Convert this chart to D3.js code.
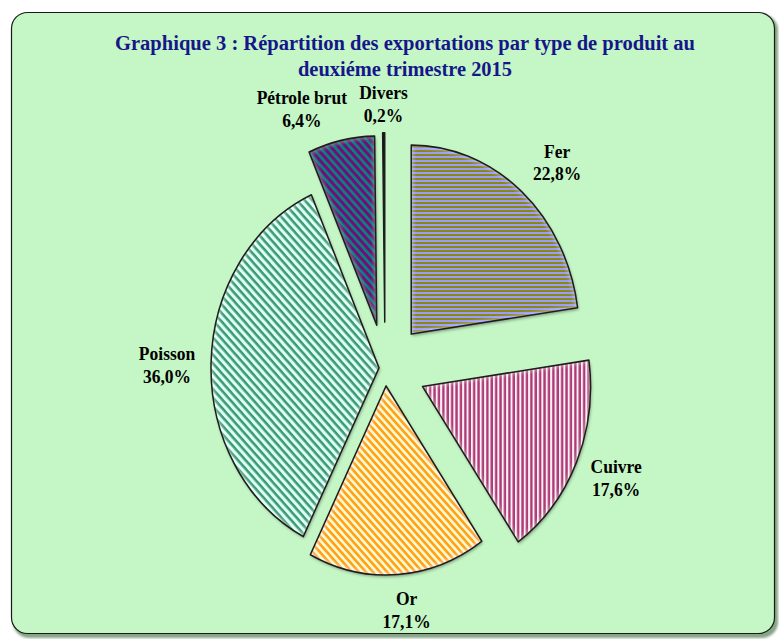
<!DOCTYPE html>
<html>
<head>
<meta charset="utf-8">
<script src="https://cdn.jsdelivr.net/npm/d3@7"></script>
<style>
  body { margin: 0; background: #ffffff; }
  svg { display: block; }
</style>
</head>
<body>
<div id="chart_block"></div>
<script>
// data
var titleLines = ["Graphique 3 : Répartition des exportations  par type de produit au", "deuxiéme trimestre  2015"]
var categories = ["Fer", "Cuivre", "Or", "Poisson", "Pétrole brut", "Divers"]
var values = [22.8, 17.6, 17.1, 36.0, 6.4, 0.2]

// layout per slice (exploded distance, label distance, label angle nudge in degrees)
var explode = [40, 41, 16, 6, 39, 41]
var labelDist = [251, 251, 216, 218, 245, 235]
var labelNudge = [2.3, -0.7, -1.8, -0.8, -7.6, 0]

var width = 779, height = 639
var cx = 385, cy = 368, radius = 168, stretch = 1.125

var svg = d3.select("#chart_block")
    .append("svg")
    .attr("width", width)
    .attr("height", height)

var defs = svg.append("defs")

// stripe patterns
function stripes(id, c1, c2, size, w1, angle) {
    var p = defs.append("pattern")
        .attr("id", id)
        .attr("patternUnits", "userSpaceOnUse")
        .attr("width", size)
        .attr("height", size)
        .attr("patternTransform", "rotate(" + angle + ")")
    p.append("rect").attr("width", size).attr("height", size).attr("fill", c2)
    p.append("rect").attr("width", size).attr("height", w1).attr("fill", c1)
}
stripes("patFer", "#88880c", "#9c9cff", 4 / stretch, 2 / stretch, 0)
stripes("patCuivre", "#ad3a76", "#fdf0f6", 4.4, 2.4, 90)
stripes("patOr", "#ffa010", "#fff8d2", 5, 2.4, 45)
stripes("patPoisson", "#3a9870", "#dcfff6", 5.4, 2.4, 45)
stripes("patPetrole", "#720a7a", "#0a8080", 5.4, 2.8, 45)

var fills = ["url(#patFer)", "url(#patCuivre)", "url(#patOr)", "url(#patPoisson)", "url(#patPetrole)", "#111111"]
var rimOpacity = [0.55, 0.55, 0.55, 0.55, 0.25, 0]

// soft bevel on slices
function makeBevel(id, op) {
    var bevel = defs.append("filter").attr("id", id)
        .attr("x", "-10%").attr("y", "-10%").attr("width", "120%").attr("height", "120%")
    bevel.append("feGaussianBlur").attr("in", "SourceAlpha").attr("stdDeviation", 2.5).attr("result", "blur")
    bevel.append("feComposite").attr("in", "SourceAlpha").attr("in2", "blur")
        .attr("operator", "arithmetic").attr("k2", 1).attr("k3", -1).attr("result", "edge")
    bevel.append("feFlood").attr("flood-color", "#ffffff").attr("flood-opacity", op)
    bevel.append("feComposite").attr("in2", "edge").attr("operator", "in").attr("result", "rim")
    bevel.append("feGaussianBlur").attr("in", "SourceAlpha").attr("stdDeviation", 1.5).attr("result", "sblur")
    bevel.append("feOffset").attr("in", "sblur").attr("dx", 1).attr("dy", 2).attr("result", "soff")
    bevel.append("feFlood").attr("flood-color", "#000000").attr("flood-opacity", 0.35)
    bevel.append("feComposite").attr("in2", "soff").attr("operator", "in").attr("result", "shadow")
    var merge = bevel.append("feMerge")
    merge.append("feMergeNode").attr("in", "shadow")
    merge.append("feMergeNode").attr("in", "SourceGraphic")
    merge.append("feMergeNode").attr("in", "rim")
}
rimOpacity.forEach(function(op, i) { makeBevel("bevel" + i, op) })

// frame shadow
var fshadow = defs.append("filter").attr("id", "fshadow")
fshadow.append("feGaussianBlur").attr("stdDeviation", 1.2)

svg.append("rect")
    .attr("x", 13).attr("y", 14)
    .attr("width", 765).attr("height", 624)
    .attr("rx", 16)
    .attr("fill", "#86a686")
    .attr("filter", "url(#fshadow)")

svg.append("rect")
    .attr("x", 11.5).attr("y", 12.5)
    .attr("width", 763).attr("height", 621)
    .attr("rx", 16)
    .attr("fill", "#c5f6c5")
    .attr("stroke", "#1a1a1a")
    .attr("stroke-width", 1.2)

// title
var title = svg.append("text")
    .attr("transform", "translate(405,0) scale(1," + stretch + ")")
    .style("font", "bold 18px 'Liberation Serif', 'Times New Roman', serif")
    .attr("fill", "#16168a")
    .attr("text-anchor", "middle")
title.append("tspan").attr("x", 0).attr("y", 50 / stretch)
    .attr("textLength", 580).attr("lengthAdjust", "spacingAndGlyphs")
    .text(titleLines[0])
title.append("tspan").attr("x", 0).attr("y", 76 / stretch)
    .attr("textLength", 214).attr("lengthAdjust", "spacingAndGlyphs")
    .text(titleLines[1])

// pie
var pie = d3.pie().sort(null).value(function(d) { return d })
var arcs = pie(values)
var arc = d3.arc().innerRadius(0).outerRadius(radius)

var pie_g = svg.append("g")
    .attr("transform", "translate(" + cx + "," + cy + ") scale(1," + stretch + ")")

var slice = pie_g.selectAll("g.slice")
    .data(arcs)
    .enter()
    .append("g")
    .attr("class", "slice")
    .attr("transform", function(d, i) {
        var a = (d.startAngle + d.endAngle) / 2
        return "translate(" + (explode[i] * Math.sin(a)) + "," + (-explode[i] * Math.cos(a)) + ")"
    })

// fill with bevel, then crisp outline on top
slice.append("path")
    .attr("d", arc)
    .attr("fill", function(d, i) { return fills[i] })
    .attr("filter", function(d, i) { return i == 5 ? null : "url(#bevel" + i + ")" })

slice.append("path")
    .attr("d", arc)
    .attr("fill", "none")
    .attr("stroke", "#1e1e1e")
    .attr("stroke-width", 1.5)
    .attr("stroke-linejoin", "round")

// labels
var fmt = function(v) { return v.toFixed(1).replace(".", ",") + "%" }

arcs.forEach(function(d, i) {
    var a = (d.startAngle + d.endAngle) / 2 + labelNudge[i] * Math.PI / 180
    var lx = cx + labelDist[i] * Math.sin(a)
    var ly = cy - labelDist[i] * Math.cos(a) * stretch
    var t = svg.append("text")
        .attr("transform", "translate(" + lx + "," + ly + ") scale(1," + stretch + ")")
        .attr("text-anchor", "middle")
        .style("font", "bold 17.5px 'Liberation Serif', 'Times New Roman', serif")
        .attr("fill", "#000000")
    t.append("tspan").attr("x", 0).attr("y", -5 / stretch).text(categories[i])
    t.append("tspan").attr("x", 0).attr("y", 18 / stretch).text(fmt(values[i]))
})
</script>
</body>
</html>
